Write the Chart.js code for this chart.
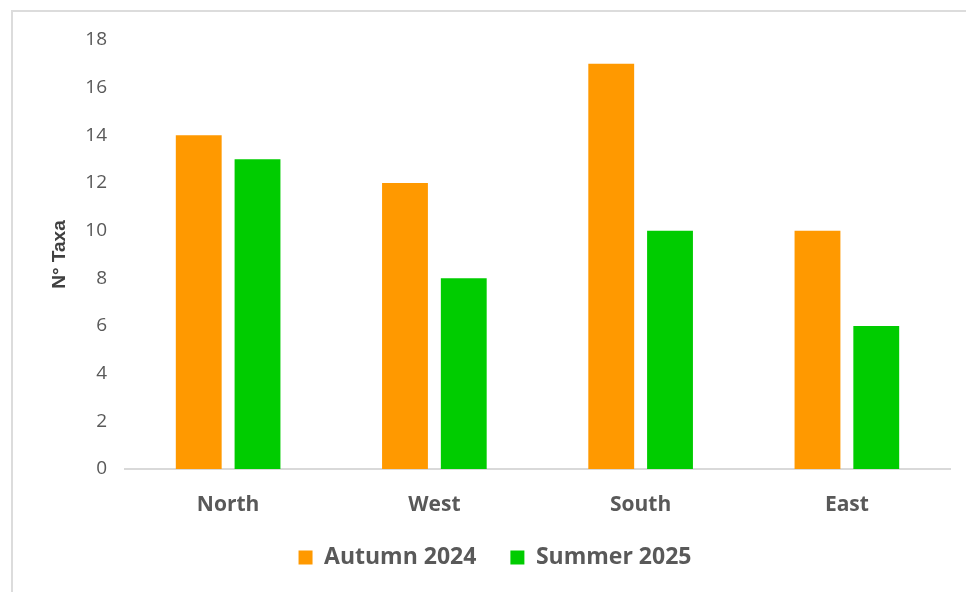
<!DOCTYPE html>
<html>
<head>
<meta charset="utf-8">
<script src="https://cdn.jsdelivr.net/npm/chart.js@4.4.1/dist/chart.umd.min.js"></script>
<style>
  html, body { margin: 0; padding: 0; background: #fff; }
  #wrap { position: relative; width: 966px; height: 592px; overflow: hidden; }
  #frame { position: absolute; left: 11px; top: 10px; width: 980px; height: 600px;
           border-left: 2px solid #dcdcdc; border-top: 2px solid #dcdcdc; }
  canvas { position: absolute; left: 0; top: 0; }
</style>
</head>
<body>
<div id="wrap">
  <div id="frame"></div>
  <canvas id="taxaChart" width="966" height="592"></canvas>
</div>
<script>
const sites = ['North', 'West', 'South', 'East'];
const autumn2024 = [14, 12, 17, 10];
const summer2025 = [13, 8, 10, 6];
const yTicks = [0, 2, 4, 6, 8, 10, 12, 14, 16, 18];

const textGrey = '#595959';
const font = "'Open Sans', sans-serif";

const ctx = document.getElementById('taxaChart').getContext('2d');
const taxaChart = new Chart(ctx, {
  type: 'bar',
  data: {
    labels: sites,
    datasets: [
      {
        label: 'Autumn 2024',
        data: autumn2024,
        backgroundColor: '#ff9900',
        categoryPercentage: 0.57,
        barPercentage: 0.78
      },
      {
        label: 'Summer 2025',
        data: summer2025,
        backgroundColor: '#00cc00',
        categoryPercentage: 0.57,
        barPercentage: 0.78
      }
    ]
  },
  options: {
    responsive: false,
    animation: false,
    layout: { padding: { left: 40, right: 16, top: 40, bottom: 13 } },
    plugins: {
      tooltip: { enabled: false },
      legend: {
        position: 'bottom',
        labels: {
          boxWidth: 14,
          boxHeight: 14,
          padding: 34,
          color: textGrey,
          font: { family: font, size: 23, weight: 'bold' }
        }
      }
    },
    scales: {
      x: {
        grid: { display: false, drawTicks: false },
        border: { display: true, color: '#d9d9d9', width: 2 },
        ticks: {
          color: textGrey,
          padding: 23,
          font: { family: font, size: 21, weight: 'bold' }
        },
        afterFit: scale => { scale.height = 43; }
      },
      y: {
        min: 0,
        max: 18,
        afterBuildTicks: scale => { scale.ticks = yTicks.map(v => ({ value: v })); },
        grid: { display: false, drawTicks: false },
        border: { display: false },
        ticks: {
          color: textGrey,
          padding: 18,
          font: { family: font, size: 19 }
        },
        title: {
          display: true,
          text: 'N° Taxa',
          color: '#404040',
          padding: { top: 8, bottom: 10 },
          font: { family: "'Liberation Sans', Arial, sans-serif", size: 19, weight: 'bold' }
        },
        afterFit: scale => { scale.width = 85; }
      }
    }
  }
});
</script>
</body>
</html>
